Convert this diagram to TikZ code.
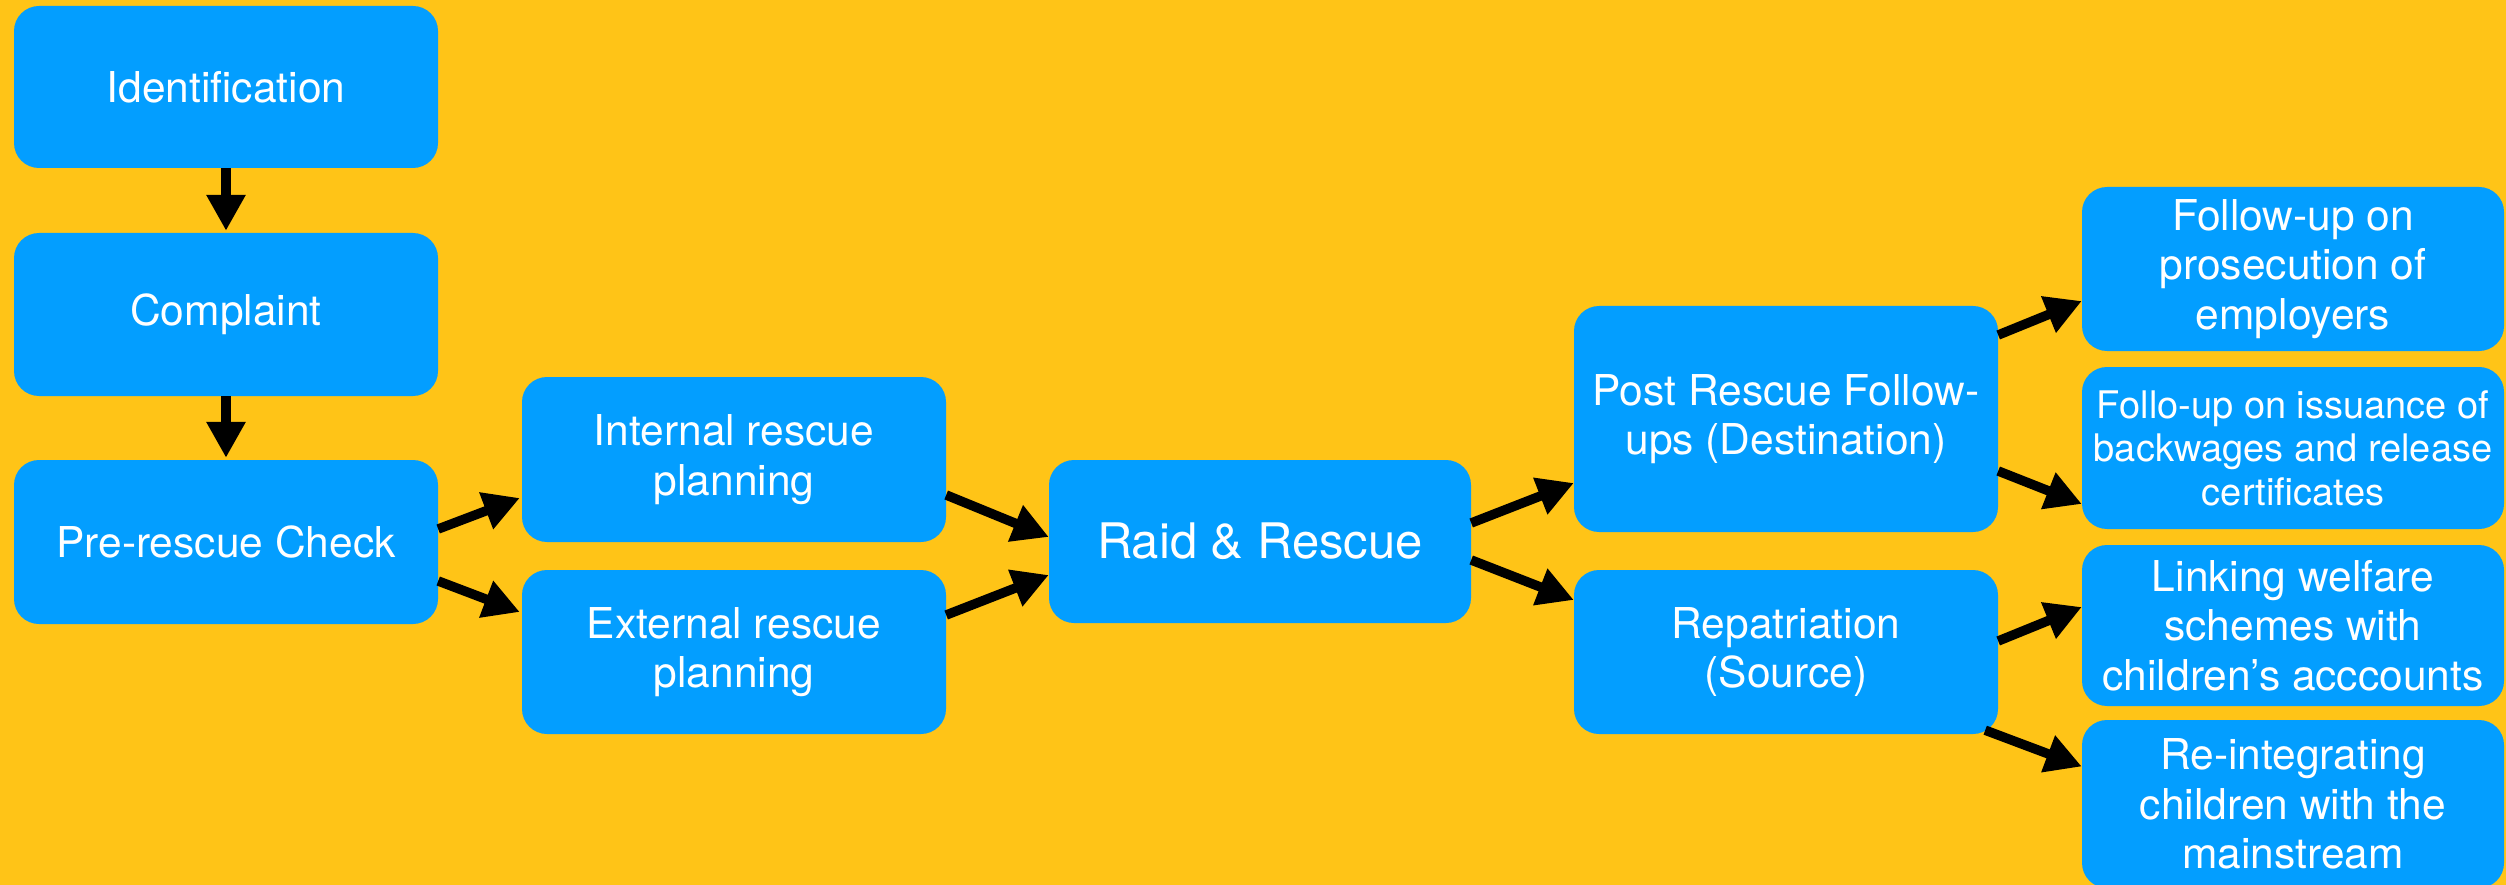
\documentclass[tikz,border=0pt]{standalone}
\usepackage{fontspec}
\setmainfont{TeX Gyre Heros}
\usetikzlibrary{arrows.meta}
\definecolor{bgyellow}{RGB}{255,196,23}
\definecolor{boxblue}{RGB}{3,158,255}
\begin{document}
\begin{tikzpicture}[x=1pt,y=-1pt,
  box/.style={rectangle,rounded corners=25pt,fill=boxblue,text=white,
    align=center,inner sep=0pt,minimum width=424pt,minimum height=164pt,
    font=\fontsize{42.5}{49.5}\selectfont},
  flow/.style={line width=9.5pt,-{Triangle[length=36pt,width=37pt]}}]
  % canvas
  \fill[bgyellow] (0,0) rectangle (2506,885);
  \useasboundingbox (0,0) rectangle (2506,885);

  % left column
  \node[box,minimum height=162pt] (ident) at (226,87) {Identification};
  \node[box,minimum height=163pt] (compl) at (226,314.5) {Complaint};
  \node[box] (pre) at (226,542) {Pre-rescue Check};

  % planning
  \node[box,minimum height=165pt] (int) at (734,459.5) {Internal rescue\\planning};
  \node[box] (ext) at (734,652) {External rescue\\planning};

  % raid
  \node[box,minimum width=422pt,minimum height=163pt,
    font=\fontsize{49}{56}\selectfont] (raid) at (1260,541.5) {Raid \& Rescue};

  % post rescue branches
  \node[box,minimum height=226pt] (post) at (1786,419) {Post Rescue Follow-\\ups (Destination)};
  \node[box] (rep) at (1786,652) {Repatriation\\(Source)};

  % outcomes
  \node[box,minimum width=422pt] (fu) at (2293,269) {Follow-up on\\prosecution of\\employers};
  \node[box,minimum width=422pt,minimum height=162pt,
    font=\fontsize{38}{43.5}\selectfont] (fo) at (2293,448)
    {Follo-up on issuance of\\backwages and release\\certificates};
  \node[box,minimum width=422pt,minimum height=161pt] (link) at (2293,625.5)
    {Linking welfare\\schemes with\\children’s acccounts};
  \node[box,minimum width=422pt,minimum height=168pt] (reint) at (2293,804)
    {Re-integrating\\children with the\\mainstream};

  % connectors
  \draw[flow] (ident.south) -- ([yshift=2pt]compl.north);
  \draw[flow] (compl.south) -- ([yshift=2pt]pre.north);
  \draw[flow] ([yshift=13pt]pre.east) -- ([xshift=-2pt,yshift=-38.5pt]int.west);
  \draw[flow] ([yshift=-39pt]pre.east) -- ([xshift=-2pt,yshift=40pt]ext.west);
  \draw[flow] ([yshift=-35.5pt]int.east) -- ([yshift=4.5pt]raid.west);
  \draw[flow] ([yshift=37pt]ext.east) -- ([yshift=-33.5pt]raid.west);
  \draw[flow] ([yshift=18.5pt]raid.east) -- ([yshift=-64pt]post.west);
  \draw[flow] ([yshift=-18.5pt]raid.east) -- ([yshift=52pt]rep.west);
  \draw[flow] ([yshift=84pt]post.east) -- ([yshift=-32pt]fu.west);
  \draw[flow] ([yshift=-52pt]post.east) -- ([yshift=-56pt]fo.west);
  \draw[flow] ([yshift=11pt]rep.east) -- ([yshift=18.5pt]link.west);
  \draw[flow] ([xshift=-13pt,yshift=4pt]rep.south east) -- ([yshift=37.5pt]reint.west);
\end{tikzpicture}
\end{document}
